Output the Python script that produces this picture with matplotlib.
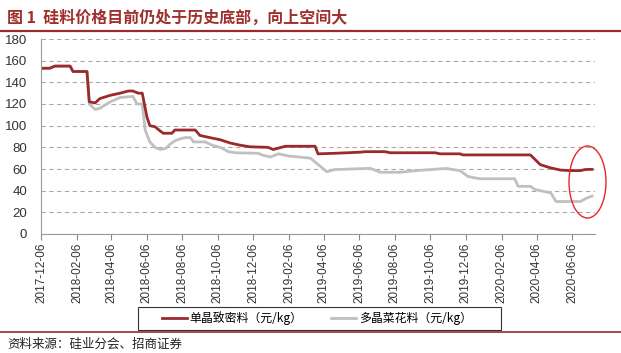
import matplotlib
matplotlib.use("Agg")
import matplotlib.pyplot as plt
import matplotlib.dates as mdates
from matplotlib.patches import Ellipse, Rectangle
from matplotlib.lines import Line2D
import pandas as pd

plt.rcParams['font.family'] = ['Noto Sans CJK SC', 'DejaVu Sans']

title = "图 1  硅料价格目前仍处于历史底部，向上空间大"
source = "资料来源：硅业分会、招商证券"
series_names = ["单晶致密料（元/kg）", "多晶菜花料（元/kg）"]

mono_dates = ["2017-12-06", "2017-12-21", "2017-12-30", "2018-01-25", "2018-01-30",
              "2018-02-23", "2018-02-27", "2018-03-09", "2018-03-17", "2018-04-04",
              "2018-04-21", "2018-05-05", "2018-05-13", "2018-05-22", "2018-05-29",
              "2018-06-06", "2018-06-11", "2018-06-20", "2018-06-29", "2018-07-04",
              "2018-07-19", "2018-07-24", "2018-08-28", "2018-09-05", "2018-09-22",
              "2018-10-10", "2018-10-27", "2018-11-13", "2018-11-30", "2018-12-31",
              "2019-01-09", "2019-01-30", "2019-03-22", "2019-03-27", "2019-04-25",
              "2019-06-07", "2019-06-16", "2019-07-20", "2019-07-29", "2019-10-14",
              "2019-10-23", "2019-11-26", "2019-12-01", "2020-03-26", "2020-04-12",
              "2020-04-30", "2020-05-17", "2020-06-03", "2020-06-20", "2020-06-28",
              "2020-07-10"]
mono_vals = [153, 153, 155, 155, 150,
             150, 122, 121, 125, 128,
             130, 132, 132, 130, 130,
             108, 100, 99, 95, 93,
             93, 96, 96, 91, 89,
             87, 84, 82, 80.5, 80,
             78, 81, 81, 74, 74.5,
             75.5, 76, 76, 75, 75,
             74, 74, 73, 73, 64,
             61, 59, 58.5, 58.5, 59.5,
             59.7]

poly_dates = ["2017-12-06", "2017-12-21", "2017-12-30", "2018-01-25", "2018-01-30",
              "2018-02-23", "2018-02-27", "2018-03-09", "2018-03-17", "2018-04-04",
              "2018-04-21", "2018-05-13", "2018-05-20", "2018-05-29", "2018-06-03",
              "2018-06-11", "2018-06-20", "2018-06-29", "2018-07-08", "2018-07-16",
              "2018-07-24", "2018-08-03", "2018-08-11", "2018-08-20", "2018-08-25",
              "2018-09-14", "2018-09-26", "2018-10-10", "2018-10-24", "2018-11-05",
              "2018-12-14", "2018-12-21", "2019-01-04", "2019-01-18", "2019-02-04",
              "2019-03-14", "2019-04-01", "2019-04-11", "2019-04-25", "2019-06-25",
              "2019-07-12", "2019-08-16", "2019-09-11", "2019-11-02", "2019-11-26",
              "2019-12-10", "2019-12-30", "2020-02-28", "2020-03-05", "2020-03-26",
              "2020-04-03", "2020-04-30", "2020-05-09", "2020-06-20", "2020-06-30",
              "2020-07-10"]
poly_vals = [153, 153, 155, 155, 150,
             150, 120, 115, 116, 122,
             126, 127, 120, 120, 96,
             85, 80, 78, 79, 83,
             86, 88, 89, 89, 85,
             85, 82, 80, 76, 75,
             74.5, 73, 71, 74, 72,
             70, 62, 57.5, 59.5, 60.6,
             57, 57, 58.5, 60.5, 58.5,
             53, 51, 51, 44, 44,
             41, 38, 30, 30, 33,
             35]

tick_dates = ["2017-12-06", "2018-02-06", "2018-04-06", "2018-06-06", "2018-08-06",
              "2018-10-06", "2018-12-06", "2019-02-06", "2019-04-06", "2019-06-06",
              "2019-08-06", "2019-10-06", "2019-12-06", "2020-02-06", "2020-04-06",
              "2020-06-06"]
y_ticks = [0, 20, 40, 60, 80, 100, 120, 140, 160, 180]

red = "#9B2A2C"
grey = "#C0C0C0"
title_color = "#A0302C"

fig = plt.figure(figsize=(6.21, 3.53), dpi=100)
ax = fig.add_axes([41/621, 1-234/353, (595-41)/621, (234-39)/353])

md = pd.to_datetime(mono_dates)
pdt = pd.to_datetime(poly_dates)
ax.plot(pdt, poly_vals, color=grey, lw=2.0, solid_joinstyle='round')
ax.plot(md, mono_vals, color=red, lw=2.0, solid_joinstyle='round')

ax.set_xlim(pd.Timestamp("2017-12-06"), pd.Timestamp("2020-07-15"))
ax.set_ylim(0, 180)
ax.set_yticks(y_ticks)
ax.set_yticklabels([str(v) for v in y_ticks], fontsize=9.5, color="#333333",
                   family=['Liberation Sans', 'DejaVu Sans'])
ax.tick_params(axis='y', length=0, pad=10)
tds = pd.to_datetime(tick_dates)
ax.set_xticks(tds)
ax.set_xticklabels(tick_dates, rotation=90, fontsize=8.5, color="#333333",
                   family=['Liberation Sans', 'DejaVu Sans'])
ax.tick_params(axis='x', length=4, width=0.8, color="#888888", pad=2)

ax.grid(axis='y', linestyle=(0, (4, 3)), color="#AAAAAA", lw=0.8)
ax.set_axisbelow(True)
for s in ['top', 'right']:
    ax.spines[s].set_visible(False)
ax.spines['left'].set_color("#999999")
ax.spines['bottom'].set_color("#999999")

# title
fig.text(7/621, 1-18/353, title, fontsize=11.5, fontweight='bold', color=title_color,
         va='center', ha='left')
fig.add_artist(Line2D([0, 1], [1-31/353, 1-31/353], color=red, lw=1.6))
fig.add_artist(Line2D([0, 1], [1-331.5/353, 1-331.5/353], color=red, lw=1.2))
fig.text(7/621, 1-344/353, source, fontsize=9, color="#222222", va='center', ha='left')

# legend
handles = [Line2D([], [], color=red, lw=2), Line2D([], [], color=grey, lw=2)]
leg = fig.legend(handles, series_names, loc='center', ncol=2,
                 bbox_to_anchor=(317/621, 1-318.5/353), fontsize=8.6,
                 frameon=False, handlelength=2.1, handletextpad=0.2,
                 columnspacing=2.4)
fig.add_artist(Rectangle((138/621, 1-330/353), (501-138)/621, 23/353,
                         transform=fig.transFigure, fill=False,
                         edgecolor="#333333", lw=0.8))

# ellipse highlight
ell = Ellipse((587.5/621, 1-182/353), 37/621, 72/353, transform=fig.transFigure,
              fill=False, edgecolor="#E8262A", lw=1.0)
fig.add_artist(ell)

fig.savefig("out.png", dpi=100)
